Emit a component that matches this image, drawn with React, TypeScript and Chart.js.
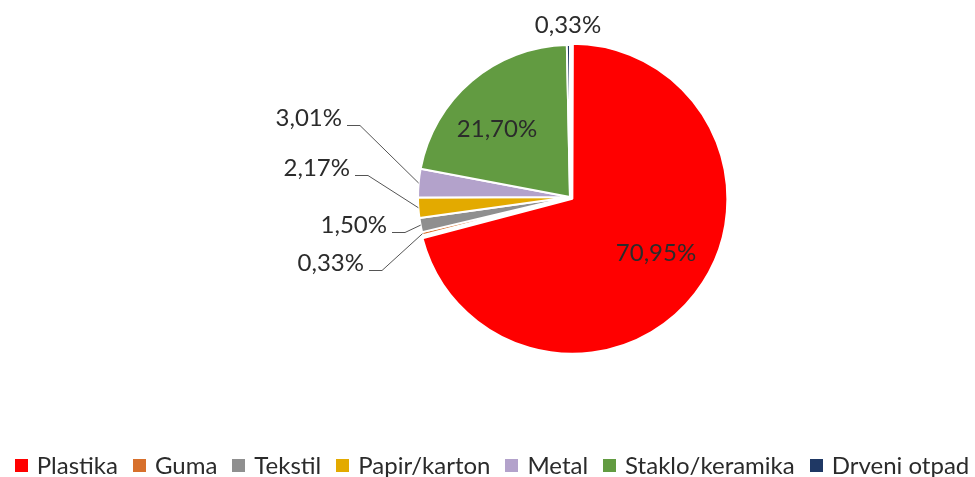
import React, { useEffect, useRef } from "react";
import { Chart, registerables } from "chart.js";

Chart.register(...registerables);

// ---- data ----
const categories = [
  "Plastika",
  "Guma",
  "Tekstil",
  "Papir/karton",
  "Metal",
  "Staklo/keramika",
  "Drveni otpad",
];
const shares = [70.95, 0.33, 1.5, 2.17, 3.01, 21.7, 0.33];

// ---- styling ----
const colors = ["#FF0000", "#D7702C", "#8F8F8F", "#E3AA00", "#B3A2CB", "#629B41", "#1F3864"];
const sliceOffsets = [12, 0, 0, 0, 0, 0, 0];
const FONT = "24px Lato";
const TEXT_COLOR = "#2B2B2B";

// label placement relative to the pie centre (layout only)
const labelPlacement = [
  { kind: "inside", dx: 86, dy: 56 },
  { kind: "left", dx: -206, dy: 66 },
  { kind: "left", dx: -183, dy: 28 },
  { kind: "left", dx: -220, dy: -29 },
  { kind: "left", dx: -228, dy: -79 },
  { kind: "inside", dx: -73, dy: -68 },
  { kind: "above", dx: -2, dy: -172 },
];

const fmt = (v: number) => v.toFixed(2).replace(".", ",") + "%";

const labelPlugin = {
  id: "pieLabels",
  afterDatasetsDraw(chart: any) {
    const meta = chart.getDatasetMeta(0);
    const ctx = chart.ctx;
    const ds = chart.data.datasets[0];
    const cx = (chart.chartArea.left + chart.chartArea.right) / 2;
    const cy = (chart.chartArea.top + chart.chartArea.bottom) / 2;
    ctx.save();
    ctx.font = FONT;
    ctx.fillStyle = TEXT_COLOR;
    ctx.textBaseline = "middle";
    meta.data.forEach((arc: any, i: number) => {
      const p = labelPlacement[i];
      const text = fmt(ds.data[i]);
      const tx = cx + p.dx;
      const ty = cy + p.dy;
      if (p.kind === "left") {
        ctx.textAlign = "right";
        ctx.fillText(text, tx, ty);
        const mid = (arc.startAngle + arc.endAngle) / 2;
        const ax = arc.x + Math.cos(mid) * arc.outerRadius;
        const ay = arc.y + Math.sin(mid) * arc.outerRadius;
        const ly = Math.round(ty + 7) + 0.5;
        ctx.strokeStyle = "#555555";
        ctx.lineWidth = 1;
        ctx.beginPath();
        ctx.moveTo(tx + 5, ly);
        ctx.lineTo(tx + 18, ly);
        ctx.lineTo(ax, ay);
        ctx.stroke();
      } else {
        ctx.textAlign = "center";
        ctx.fillText(text, tx, ty);
      }
    });
    ctx.restore();
  },
};

const legendPlugin = {
  id: "bottomLegend",
  afterDraw(chart: any) {
    const ctx = chart.ctx;
    const labels: string[] = chart.data.labels;
    const bg: string[] = chart.data.datasets[0].backgroundColor;
    ctx.save();
    ctx.font = FONT;
    const widths = labels.map((t) => ctx.measureText(t).width);
    const box = 13;
    const gap = 9;
    const pad = 15;
    const total = widths.reduce((s, w) => s + box + gap + w, 0) + pad * (labels.length - 1);
    let x = 492 - total / 2;
    const y = 466;
    ctx.textBaseline = "middle";
    ctx.textAlign = "left";
    labels.forEach((t, i) => {
      ctx.fillStyle = bg[i];
      ctx.fillRect(Math.round(x), y - 7, box, box);
      ctx.fillStyle = TEXT_COLOR;
      ctx.fillText(t, x + box + gap, y);
      x += box + gap + widths[i] + pad;
    });
    ctx.restore();
  },
};

export default function App() {
  const ref = useRef<HTMLCanvasElement | null>(null);
  useEffect(() => {
    document.body.style.margin = "0";
    if (!ref.current) return;
    const chart = new Chart(ref.current, {
      type: "pie",
      data: {
        labels: categories,
        datasets: [
          {
            data: shares,
            backgroundColor: colors,
            borderColor: "#FFFFFF",
            borderWidth: 2,
            offset: sliceOffsets,
            radius: 152,
          } as any,
        ],
      },
      options: {
        animation: false,
        responsive: false,
        maintainAspectRatio: false,
        events: [],
        layout: { padding: { left: 200, right: 35, top: 30, bottom: 113 } },
        plugins: {
          legend: { display: false },
          tooltip: { enabled: false },
          title: { display: false },
        },
      },
      plugins: [labelPlugin, legendPlugin],
    });
    return () => chart.destroy();
  }, []);
  return (
    <div style={{ position: "absolute", left: 0, top: 0, width: 975, height: 477, background: "#fff" }}>
      <canvas ref={ref} width={975} height={477} />
    </div>
  );
}
